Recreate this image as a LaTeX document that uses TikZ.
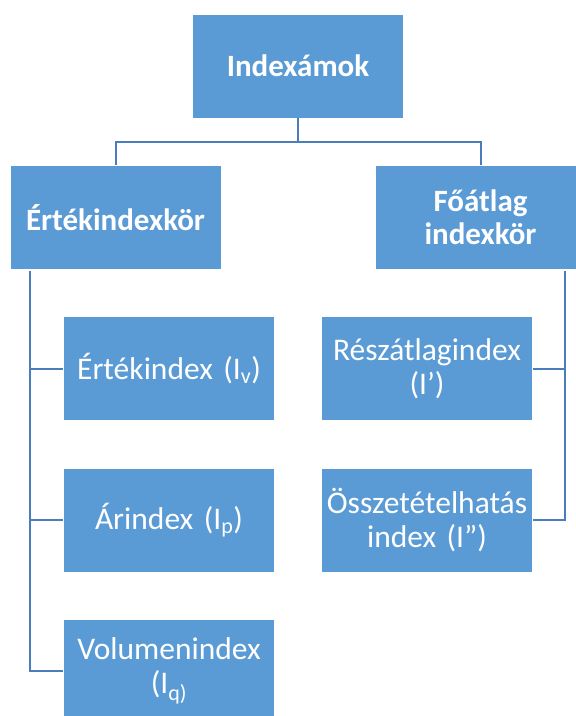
\documentclass[tikz,border=0pt]{standalone}
\usepackage{fontspec}
\setmainfont{Carlito}
\usepackage{tikz}
\definecolor{boxblue}{RGB}{91,155,213}
\definecolor{lineblue}{RGB}{74,126,187}
\tikzset{
	box/.style={rectangle, fill=boxblue, draw=white, line width=0.8pt, text=white,
		minimum width=211pt, minimum height=104pt, text width=207pt, inner sep=2pt,
		align=center, font=\fontsize{31.5}{34}\selectfont},
	headbox/.style={box, font=\bfseries\fontsize{31}{33}\selectfont},
	conn/.style={draw=lineblue, line width=2pt},
}

\begin{document}
\begin{tikzpicture}[x=1pt,y=-1pt]
		\clip (0,0) rectangle (576,716); % page size
		\node[headbox] (top) at (298,66) {Indexámok};
		\node[headbox] (ertekkor) at (115.5,217.5) {Értékindexkör};
		\node[headbox] (foatlag) at (480.5,217.5) {Főátlag\\indexkör};
		% left column
		\node[box] (ertek) at (169,368.5) {Értékindex (I\textsubscript{v})};
		\node[box] (ar) at (169,520) {Árindex (I\textsubscript{p})};
		\node[box] (volumen) at (169,671) {Volumenindex\\(I\textsubscript{q)}};
		% right column
		\node[box] (reszatlag) at (427,368.5) {Részátlagindex\\(I’)};
		\node[box] (osszetetel) at (427,520) {Összetételhatás\\index (I”)};
		\coordinate (split) at (298,142);
		\coordinate (lspine) at (30,271);
		\coordinate (rspine) at (565,271);
		\draw[conn] (top.south) -- (split);
		\draw[conn] (split) -| (ertekkor.north);
		\draw[conn] (split) -| (foatlag.north);
		\foreach \n in {ertek,ar,volumen}
		\draw[conn] (lspine) |- (\n.west);
		\foreach \n in {reszatlag,osszetetel}
		\draw[conn] (rspine) |- (\n.east);
		\end{tikzpicture}
\end{document}
